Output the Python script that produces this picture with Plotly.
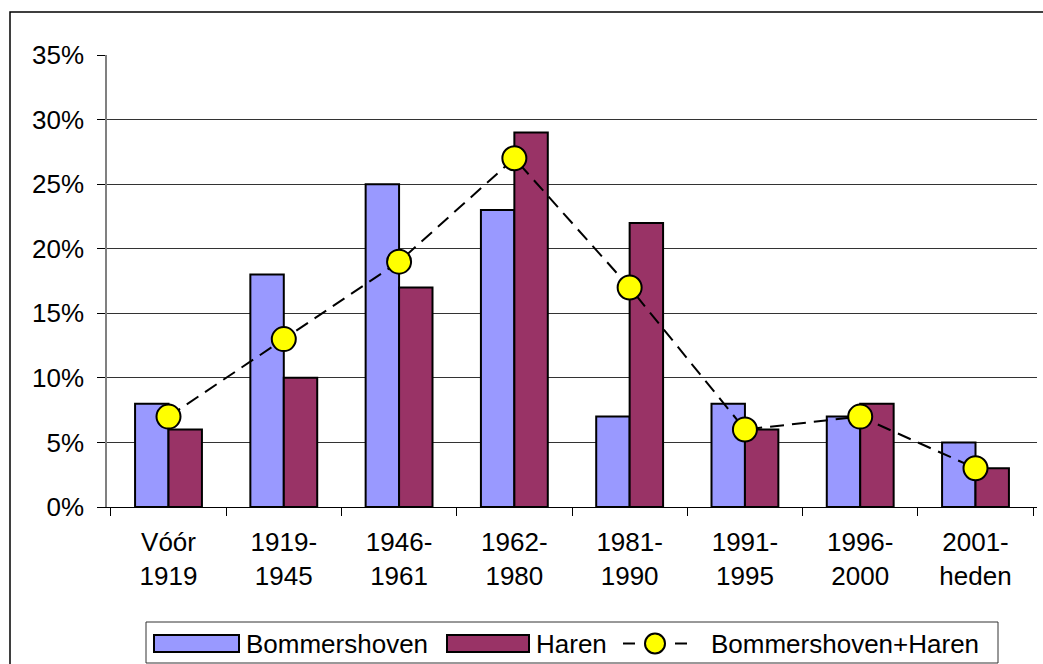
import plotly.graph_objects as go

categories = ["Vóór<br>1919", "1919-<br>1945", "1946-<br>1961", "1962-<br>1980",
              "1981-<br>1990", "1991-<br>1995", "1996-<br>2000", "2001-<br>heden"]
bommershoven = [8, 18, 25, 23, 7, 8, 7, 5]
haren = [6, 10, 17, 29, 22, 6, 8, 3]
combined = [7, 13, 19, 27, 17, 6, 7, 3]
series_names = ["Bommershoven", "Haren", "Bommershoven+Haren"]
colors = ["#9999FF", "#993366", "#FFFF00"]

W, H = 1043, 664
ML, MR, MT, MB = 107, 6, 55, 157
PW, PH = W - ML - MR, H - MT - MB


def px_x(px):
    return (px - ML) / PW


def px_y(py):
    return (H - MB - py) / PH


FONT = "Liberation Sans, Arial, sans-serif"
FS = 26

fig = go.Figure()
fig.add_trace(go.Bar(x=categories, y=[v / 100 for v in bommershoven], name=series_names[0],
                     marker=dict(color=colors[0], line=dict(color="black", width=2))))
fig.add_trace(go.Bar(x=categories, y=[v / 100 for v in haren], name=series_names[1],
                     marker=dict(color=colors[1], line=dict(color="black", width=2))))
fig.add_trace(go.Scatter(x=categories, y=[v / 100 for v in combined], name=series_names[2],
                         mode="lines+markers",
                         line=dict(color="black", width=2, dash="14px,8px"),
                         marker=dict(size=24, color=colors[2], line=dict(color="black", width=2))))

fig.update_layout(
    width=W, height=H,
    margin=dict(l=ML, r=MR, t=MT, b=MB, autoexpand=False),
    plot_bgcolor="white", paper_bgcolor="white",
    barmode="group", bargap=0.42, bargroupgap=0,
    font=dict(family=FONT, size=FS, color="black"),
    showlegend=False,
    xaxis=dict(type="category", tickson="boundaries", ticks="outside", ticklen=8,
               tickcolor="black", showline=True, linecolor="black", linewidth=1,
               showgrid=False, tickfont=dict(size=FS), automargin=False,
               ticklabelstandoff=12),
    yaxis=dict(range=[0, 0.35], dtick=0.05, tickformat=".0%", ticks="outside", ticklen=8,
               tickcolor="black", showline=True, linecolor="#808080", linewidth=1.5,
               showgrid=True, gridcolor="#333333", gridwidth=1, zeroline=False,
               tickfont=dict(size=FS), automargin=False, ticklabelstandoff=8),
)

# outer chart border
fig.add_shape(type="rect", xref="paper", yref="paper",
              x0=px_x(10), x1=px_x(W + 5), y0=px_y(H + 5), y1=px_y(12),
              line=dict(color="black", width=1.5), layer="below")

# custom legend (box, swatches, labels)
ly = 643.5
fig.add_shape(type="rect", xref="paper", yref="paper",
              x0=px_x(146), x1=px_x(998), y0=px_y(663), y1=px_y(622),
              line=dict(color="#333333", width=1), fillcolor="white")
fig.add_shape(type="rect", xref="paper", yref="paper",
              x0=px_x(154), x1=px_x(239), y0=px_y(652), y1=px_y(635),
              line=dict(color="black", width=2), fillcolor=colors[0])
fig.add_shape(type="rect", xref="paper", yref="paper",
              x0=px_x(447), x1=px_x(529), y0=px_y(652), y1=px_y(635),
              line=dict(color="black", width=2), fillcolor=colors[1])
fig.add_shape(type="line", xref="paper", yref="paper",
              x0=px_x(623), x1=px_x(687), y0=px_y(ly), y1=px_y(ly),
              line=dict(color="black", width=2, dash="12px,40px"))
fig.add_shape(type="circle", xref="paper", yref="paper",
              xsizemode="pixel", ysizemode="pixel",
              xanchor=px_x(655), yanchor=px_y(ly),
              x0=-10, x1=10, y0=-10, y1=10,
              line=dict(color="black", width=2), fillcolor=colors[2])
for name, xpx in zip(series_names, [244, 534, 709]):
    fig.add_annotation(text=name, xref="paper", yref="paper", x=px_x(xpx), y=px_y(ly),
                       xanchor="left", yanchor="middle", showarrow=False,
                       font=dict(family=FONT, size=FS, color="black"))

fig.write_html("out.html", config={"displayModeBar": False},
               post_script="document.body.style.margin='0';document.body.style.overflow='hidden';")
